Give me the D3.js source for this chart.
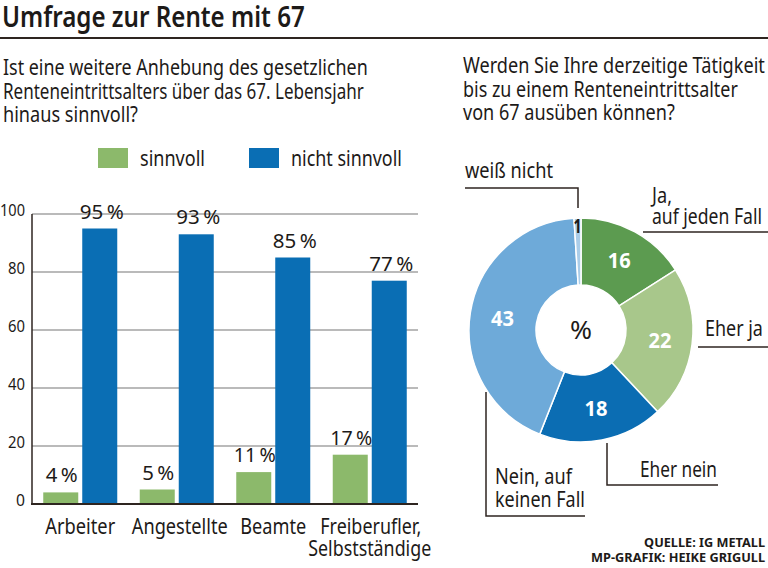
<!DOCTYPE html>
<html><head><meta charset="utf-8">
<script src="https://cdn.jsdelivr.net/npm/d3@7"></script>
<style>
html,body{margin:0;padding:0;background:#fff;}
svg{display:block;}
text{font-family:"Noto Sans","Open Sans",sans-serif;fill:#1d1a18;}
</style></head>
<body>
<svg id="c" width="768" height="568"></svg>
<script>
// ---- data ----
const categories = ["Arbeiter", "Angestellte", "Beamte", "Freiberufler,|Selbstständige"];
const seriesNames = ["sinnvoll", "nicht sinnvoll"];
const sinnvoll = [4, 5, 11, 17];
const nichtSinnvoll = [95, 93, 85, 77];
const yTicks = [0, 20, 40, 60, 80, 100];

const pieLabels = ["Ja, auf jeden Fall", "Eher ja", "Eher nein", "Nein, auf keinen Fall", "weiß nicht"];
const pieValues = [16, 22, 18, 43, 1];

const colors = { green: "#8cb96b", blue: "#0a6eb4" };
const pieColors = ["#5c9b50", "#a8c78b", "#0b6db3", "#6eaad9", "#aacde9"];
const lineColor = "#2e2520";

const svg = d3.select("#c");

// text helper: optional target width (condensed look via horizontal scale)
function txt(parent, x, y, s, size, width, opts = {}) {
  const t = parent.append("text").attr("font-size", size).text(s);
  if (opts.anchor) t.attr("text-anchor", opts.anchor);
  if (opts.weight) t.attr("font-weight", opts.weight);
  if (opts.fill) t.style("fill", opts.fill);
  let k = 1;
  if (width) {
    const w = t.node().getComputedTextLength();
    if (w > 0) k = width / w;
  }
  t.attr("transform", `translate(${x},${y}) scale(${k.toFixed(4)},1)`);
  return t;
}

// ---- title ----
txt(svg, 2, 27, "Umfrage zur Rente mit 67", 28.5, 303, { weight: "600" });
svg.append("line").attr("x1", 0).attr("x2", 768).attr("y1", 38).attr("y2", 38)
  .attr("stroke", lineColor).attr("stroke-width", 2);

// ---- left subtitle ----
const sub1 = ["Ist eine weitere Anhebung des gesetzlichen", "Renteneintrittsalters über das 67. Lebensjahr", "hinaus sinnvoll?"];
const sub1W = [365, 361, 135];
sub1.forEach((t, i) => txt(svg, 3, 75 + i * 23.5, t, 21, sub1W[i]));

// ---- legend ----
const legendX = [98, 249];
const legendW = [65, 111];
seriesNames.forEach((n, i) => {
  svg.append("rect").attr("x", legendX[i]).attr("y", 148).attr("width", 30).attr("height", 20)
    .attr("fill", i === 0 ? colors.green : colors.blue);
  txt(svg, legendX[i] + 42, 166, n, 21, legendW[i]);
});

// ---- bar chart ----
const x = d3.scaleBand().domain(categories).range([32, 418]).paddingInner(0).paddingOuter(0);
const y = d3.scaleLinear().domain([0, 100]).range([504, 214]);
const barW = 35, gap = 4;

const g = svg.append("g");
g.selectAll("line.grid").data(yTicks.filter(d => d > 0)).join("line")
  .attr("x1", 32).attr("x2", 418).attr("y1", d => y(d)).attr("y2", d => y(d))
  .attr("stroke", "#a3a3a3").attr("stroke-width", 1.5);
yTicks.forEach(d => txt(g, 25, y(d) + 2, d, 15.5, d === 100 ? 25 : (d === 0 ? 9 : 17), { anchor: "end" }));

const xc = c => x(c) + x.bandwidth() / 2;
g.selectAll("rect.g").data(categories).join("rect")
  .attr("x", c => xc(c) - gap / 2 - barW).attr("width", barW)
  .attr("y", (c, i) => y(sinnvoll[i])).attr("height", (c, i) => y(0) - y(sinnvoll[i]))
  .attr("fill", colors.green);
g.selectAll("rect.b").data(categories).join("rect")
  .attr("x", c => xc(c) + gap / 2).attr("width", barW)
  .attr("y", (c, i) => y(nichtSinnvoll[i])).attr("height", (c, i) => y(0) - y(nichtSinnvoll[i]))
  .attr("fill", colors.blue);
categories.forEach((c, i) => {
  const s = sinnvoll[i], n = nichtSinnvoll[i];
  txt(svg, xc(c) - gap / 2 - barW / 2 + 1, y(s) - 10, s + "\u2009%", 20.5, s < 10 ? 32 : 42, { anchor: "middle" });
  txt(svg, xc(c) + gap / 2 + barW / 2 + 2, y(n) - 10, n + "\u2009%", 20.5, 44, { anchor: "middle" });
});
svg.append("line").attr("x1", 32).attr("x2", 32).attr("y1", y(100)).attr("y2", y(0))
  .attr("stroke", lineColor).attr("stroke-width", 1.5);
svg.append("line").attr("x1", 31).attr("x2", 418).attr("y1", y(0)).attr("y2", y(0))
  .attr("stroke", lineColor).attr("stroke-width", 2);
const catW = [[70], [96], [66], [101, 123]];
categories.forEach((c, i) => {
  c.split("|").forEach((t, j) => {
    txt(svg, xc(c) + (i === 1 ? 3 : 0) + (i === 3 && j === 0 ? 1 : 0), 534 + j * 22, t, 21, catW[i][j], { anchor: "middle" });
  });
});

// ---- right subtitle ----
const sub2 = ["Werden Sie Ihre derzeitige Tätigkeit", "bis zu einem Renteneintrittsalter", "von 67 ausüben können?"];
const sub2W = [302, 275, 212];
sub2.forEach((t, i) => txt(svg, 463, 73 + i * 23.5, t, 21, sub2W[i]));

// ---- donut ----
const cx = 581, cy = 330, rOut = 112, rIn = 45;
const pie = d3.pie().sort(null).value(d => d)(pieValues);
const arc = d3.arc().innerRadius(rIn).outerRadius(rOut);
const pg = svg.append("g").attr("transform", `translate(${cx},${cy})`);
pg.selectAll("path").data(pie).join("path")
  .attr("d", arc).attr("fill", (d, i) => pieColors[i])
  .attr("stroke", "#fff").attr("stroke-width", 1.5);
const labelArc = d3.arc().innerRadius((rIn + rOut) / 2 + 1).outerRadius((rIn + rOut) / 2 + 1);
pie.slice(0, 4).forEach(d => {
  const [lx, ly] = labelArc.centroid(d);
  txt(pg, lx, ly + 8, d.data, 21, 23, { anchor: "middle", weight: "bold", fill: "#fff" });
});
txt(pg, 0, 9, "%", 25, 22, { anchor: "middle" });
const small = pie[4];
const sa = (small.startAngle + small.endAngle) / 2;
txt(pg, Math.sin(sa) * rOut, -rOut + 15, small.data, 19, 8, { anchor: "middle", weight: "bold" });

// ---- leader lines & labels ----
const ll = svg.append("g").attr("fill", "none").attr("stroke", lineColor).attr("stroke-width", 1.5);
ll.append("path").attr("d", "M465,188 H578 V208");
ll.append("path").attr("d", "M643,232 H768");
ll.append("path").attr("d", "M698,347 H768");
ll.append("path").attr("d", "M607,443 V485 H718");
ll.append("path").attr("d", "M486,392 V516 H585");

txt(svg, 465, 178, "weiß nicht", 21, 88);
txt(svg, 652, 203, "Ja,", 21, 20);
txt(svg, 652, 224, "auf jeden Fall", 21, 110);
txt(svg, 705, 336, "Eher ja", 21, 58);
txt(svg, 640, 477, "Eher nein", 21, 77);
txt(svg, 495, 484, "Nein, auf", 21, 77);
txt(svg, 495, 507, "keinen Fall", 21, 90);

// ---- footer ----
txt(svg, 765, 547, "QUELLE: IG METALL", 12.5, 121, { anchor: "end", weight: "bold" });
txt(svg, 765, 562, "MP-GRAFIK: HEIKE GRIGULL", 12.5, 174, { anchor: "end", weight: "bold" });
</script>
</body></html>
